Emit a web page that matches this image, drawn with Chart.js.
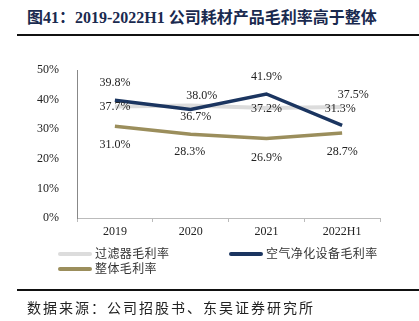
<!DOCTYPE html>
<html>
<head>
<meta charset="utf-8">
<script src="https://cdn.jsdelivr.net/npm/chart.js@4"></script>
<style>
  body { margin: 0; background: #fff; }
  #wrap { position: relative; width: 419px; height: 321px; overflow: hidden; }
  #chart { position: absolute; left: 0; top: 0; }
  .title { position: absolute; left: 27px; top: 4px; font: bold 16px "Liberation Serif", "Noto Sans CJK SC", serif; color: #1a2a4f; white-space: nowrap; }
  .rule { position: absolute; left: 17px; right: 0; height: 2px; background: #111; }
  .legend-item { position: absolute; font: 12px "Noto Sans CJK SC", sans-serif; color: #333; white-space: nowrap; letter-spacing: 0.4px; }
  .legend-item i { display: inline-block; width: 34px; height: 4px; border-radius: 2px; vertical-align: middle; margin-right: 3px; position: relative; top: -1px; }
  .source { position: absolute; left: 27px; top: 297px; font: 14px "Noto Sans CJK SC", sans-serif; color: #222; letter-spacing: 2px; white-space: nowrap; }
</style>
</head>
<body>
<div id="wrap">
  <div class="title">图41：2019-2022H1 公司耗材产品毛利率高于整体</div>
  <div class="rule" style="top:34px"></div>
  <canvas id="chart" width="419" height="321"></canvas>
  <div class="legend-item" style="left:58px;top:244px"><i style="background:#dcdcdc"></i>过滤器毛利率</div>
  <div class="legend-item" style="left:229px;top:244px"><i style="background:#1b3560"></i>空气净化设备毛利率</div>
  <div class="legend-item" style="left:58px;top:259px"><i style="background:#9b8e5c"></i>整体毛利率</div>
  <div class="rule" style="top:289px"></div>
  <div class="source">数据来源：公司招股书、东吴证券研究所</div>
</div>
<script>
// categories and series (gross margin, %)
const years = ['2019', '2020', '2021', '2022H1'];
const filterMargin = [37.7, 38.0, 37.2, 37.5];
const purifierMargin = [39.8, 36.7, 41.9, 31.3];
const overallMargin = [31.0, 28.3, 26.9, 28.7];
const yTicks = [0, 10, 20, 30, 40, 50];

// where each value label sits relative to its point [dx, dy]
const labelOffsets = {
  0: [[0, -17], [5, 7], [0, -17], [-2, -17]],
  1: [[0, 0], [11, -10], [0, 1], [11, -12]],
  2: [[0, 19], [-1, 18], [0, 19], [0, 19]]
};

const serif = '"Liberation Serif", "Times New Roman", serif';

const valueLabels = {
  id: 'valueLabels',
  afterDatasetsDraw(chart) {
    const ctx = chart.ctx;
    ctx.save();
    ctx.font = '12px ' + serif;
    ctx.fillStyle = '#222';
    ctx.textAlign = 'center';
    ctx.textBaseline = 'middle';
    chart.data.datasets.forEach((ds, i) => {
      const meta = chart.getDatasetMeta(i);
      meta.data.forEach((pt, j) => {
        const off = labelOffsets[i][j];
        ctx.fillText(ds.data[j].toFixed(1) + '%', pt.x + off[0], pt.y + off[1]);
      });
    });
    ctx.restore();
  }
};

new Chart(document.getElementById('chart').getContext('2d'), {
  type: 'line',
  data: {
    labels: years,
    datasets: [
      { label: '空气净化设备毛利率', data: purifierMargin, borderColor: '#1b3560', borderWidth: 3.5 },
      { label: '过滤器毛利率', data: filterMargin, borderColor: '#dcdcdc', borderWidth: 4 },
      { label: '整体毛利率', data: overallMargin, borderColor: '#9b8e5c', borderWidth: 3.5 }
    ]
  },
  options: {
    responsive: false,
    animation: false,
    elements: { point: { radius: 0 }, line: { tension: 0 } },
    layout: { padding: { top: 70, right: 39, left: 0, bottom: 83 } },
    plugins: { legend: { display: false }, tooltip: { enabled: false } },
    scales: {
      x: {
        offset: true,
        grid: { offset: true, drawOnChartArea: false, color: '#bbb', tickLength: 4 },
        border: { color: '#bbb' },
        ticks: { padding: 3, color: '#222', font: { family: serif, size: 12 } },
        afterFit: s => { s.height = 20; }
      },
      y: {
        min: 0,
        max: 50,
        afterBuildTicks: s => { s.ticks = yTicks.map(v => ({ value: v })); },
        grid: { display: false },
        border: { color: '#888' },
        ticks: { padding: 10, color: '#222', font: { family: serif, size: 12 }, callback: v => v + '%' },
        afterFit: s => { s.width = 77; }
      }
    }
  },
  plugins: [valueLabels]
});
</script>
</body>
</html>
